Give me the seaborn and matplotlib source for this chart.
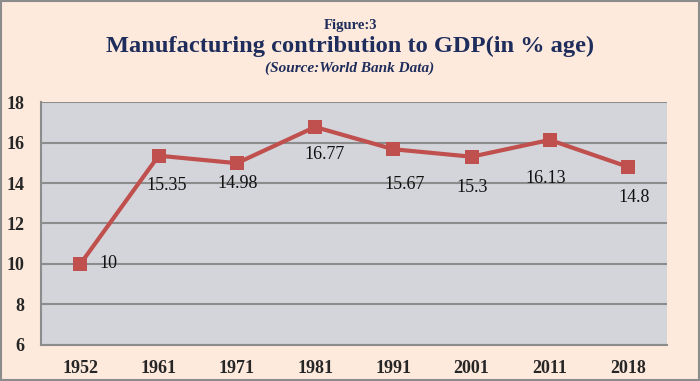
import seaborn as sns
import pandas as pd
import matplotlib.pyplot as plt
from matplotlib.patches import Rectangle

years = ['1952', '1961', '1971', '1981', '1991', '2001', '2011', '2018']
share = [10, 15.35, 14.98, 16.77, 15.67, 15.3, 16.13, 14.8]
labels = ['10', '15.35', '14.98', '16.77', '15.67', '15.3', '16.13', '14.8']

sns.set_style("white")
plt.rcParams['font.family'] = ['Liberation Serif', 'DejaVu Serif']

df = pd.DataFrame({'year': years, 'share': share})

fig = plt.figure(figsize=(7, 3.81), dpi=100, facecolor='#fdeadc')
ax = fig.add_axes([0.059, 0.095, 0.894, 0.637])
ax.set_facecolor('#d4d5db')

sns.lineplot(data=df, x='year', y='share', ax=ax, color='#c0504d', linewidth=3,
             marker='s', markersize=10, markeredgewidth=0, sort=False)

# label offsets in pixels (dx, dy below), roughly as excel placed them
offs = [(28, 0), (8, 30), (1, 20), (9, 28), (11, 35), (1, 31), (-4, 39), (6, 31)]
for i, (v, t) in enumerate(zip(share, labels)):
    dx, dy = offs[i]
    ax.annotate(t, (i, v), xytext=(dx * 0.72, -dy * 0.72), textcoords='offset points',
                ha='center', va='center', fontsize=13, color='#111111')

ax.set_ylim(6, 18)
ax.set_yticks(range(6, 19, 2))
ax.set_xlim(-0.5, 7.5)
ax.set_xticks(range(8))
ax.set_xticklabels(years)
ax.set_xticks([i - 0.5 for i in range(9)], minor=True)
ax.yaxis.grid(True, color='#8c8c8c', linewidth=1.5)
ax.set_axisbelow(True)
ax.tick_params(axis='x', which='major', length=0, pad=11, labelsize=13)
ax.tick_params(axis='x', which='minor', length=5, color='#8c8c8c', width=1.2)
ax.tick_params(axis='y', length=5, color='#8c8c8c', width=1.2, labelsize=13, pad=7)
for lab in ax.get_xticklabels() + ax.get_yticklabels():
    lab.set_fontweight('bold')
for s in ['top', 'right']:
    ax.spines[s].set_visible(False)
for s in ['left', 'bottom']:
    ax.spines[s].set_color('#8c8c8c')
    ax.spines[s].set_linewidth(1.5)
ax.set_xlabel('')
ax.set_ylabel('')

navy = '#1f2d5c'
fig.text(0.5, 0.934, 'Figure:3', ha='center', va='center', fontsize=10.5,
         fontweight='bold', color=navy)
fig.text(0.5, 0.877, 'Manufacturing contribution to GDP(in % age)', ha='center',
         va='center', fontsize=17.6, fontweight='bold', color=navy)
fig.text(0.5, 0.822, '(Source:World Bank Data)', ha='center', va='center',
         fontsize=11, fontweight='bold', fontstyle='italic', color=navy)

fig.patches.append(Rectangle((0.001, 0.002), 0.998, 0.996, transform=fig.transFigure,
                             fill=False, edgecolor='#8c8c8c', linewidth=1.5))

fig.savefig('out.png', dpi=100, facecolor=fig.get_facecolor())
